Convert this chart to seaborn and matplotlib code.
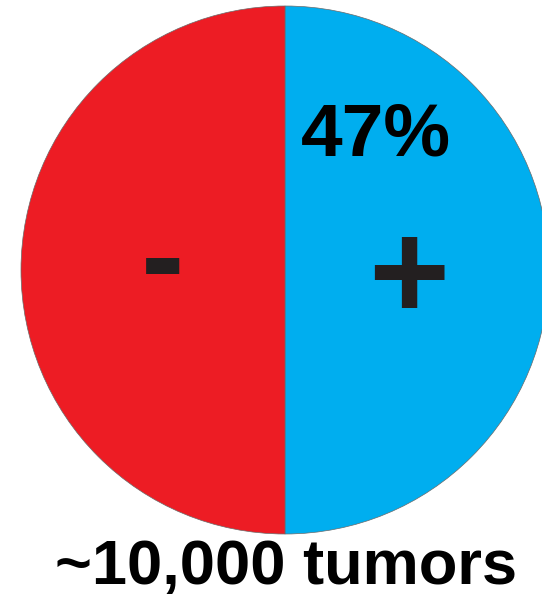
import matplotlib
matplotlib.use("Agg")
import matplotlib.pyplot as plt
import seaborn as sns

# data
labels = ["+", "-"]
shares = [50, 50]          # drawn halves as in the picture
colors = ["#00AEEF", "#ED1C24"]
pct_label = "47%"
caption = "~10,000 tumors"

sns.set_theme(style="white")
plt.rcParams['font.family'] = ['Liberation Sans', 'DejaVu Sans']

W, H = 542, 596
fig = plt.figure(figsize=(W / 100, H / 100), dpi=100)
fig.patch.set_facecolor("white")

cx, cy, r = 285, 270, 264
ax = fig.add_axes([(cx - r) / W, (H - cy - r) / H, 2 * r / W, 2 * r / H])
ax.pie(shares, colors=colors, startangle=90, counterclock=False, radius=1,
       wedgeprops=dict(edgecolor="#6a6a6a", linewidth=0.5))
ax.set_xlim(-1, 1)
ax.set_ylim(-1, 1)
ax.set_aspect("equal")
ax.axis("off")

def px(x, y):
    return x / W, 1 - y / H

dark = "#231F20"
fig.text(*px(376, 136), pct_label, ha="center", va="center", fontsize=54,
         fontweight="bold", color="black")
fig.text(*px(163, 265), labels[1], ha="center", va="center", fontsize=94,
         fontweight="bold", color=dark)
fig.text(*px(409, 283), labels[0], ha="center", va="center", fontsize=100,
         fontweight="bold", color=dark)
fig.text(*px(286, 584), caption, ha="center", va="baseline", fontsize=45.5,
         fontweight="bold", color="black")

fig.savefig("out.png", dpi=100)
